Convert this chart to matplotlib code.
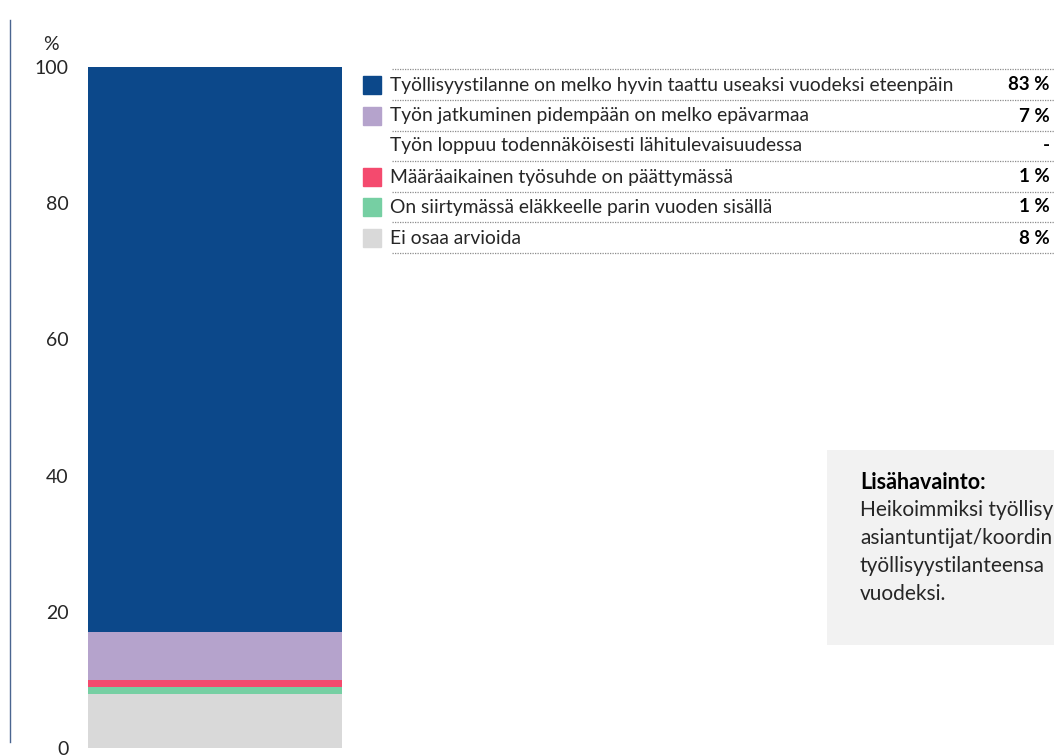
import matplotlib.pyplot as plt
from matplotlib.patches import Rectangle
from matplotlib.lines import Line2D

plt.rcParams['font.family'] = ['Lato', 'DejaVu Sans']

# data (legend order, top to bottom)
labels = ['Työllisyystilanne on melko hyvin taattu useaksi vuodeksi eteenpäin',
          'Työn jatkuminen pidempään on melko epävarmaa',
          'Työn loppuu todennäköisesti lähitulevaisuudessa',
          'Määräaikainen työsuhde on päättymässä',
          'On siirtymässä eläkkeelle parin vuoden sisällä',
          'Ei osaa arvioida']
values = [83, 7, 0, 1, 1, 8]
value_texts = ['83 %', '7 %', '-', '1 %', '1 %', '8 %']
colors = ['#0C488A', '#B5A3CC', '#F2A93B', '#F44A6E', '#76CFA3', '#D9D9D9']
yticks = [0, 20, 40, 60, 80, 100]

# note text as far as it is visible in the picture
note_title = 'Lisähavainto:'
note_lines = ['Heikoimmiksi työllisy',
              'asiantuntijat/koordin',
              'työllisyystilanteensa',
              'vuodeksi.']

W, H = 1054, 756
fig = plt.figure(figsize=(W / 100, H / 100), dpi=100)
txt = '#262626'

def fx(px):
    return px / W

def fy(py):
    return 1 - py / H

# bar axes: bar spans x 88..342, y 0 -> 748px, 100 -> 67px
ax = fig.add_axes([fx(88), fy(748), fx(342 - 88), (748 - 67) / H])
bottom = 0
for v, c in zip(values[::-1], colors[::-1]):
    if v > 0:
        ax.bar(0, v, bottom=bottom, width=1, color=c, linewidth=0)
    bottom += v
ax.set_xlim(-0.5, 0.5)
ax.set_ylim(0, 100)
ax.set_xticks([])
ax.set_yticks(yticks)
ax.tick_params(axis='y', length=0, pad=14, labelsize=14, labelcolor=txt)
for s in ax.spines.values():
    s.set_visible(False)
fig.text(fx(51), fy(45), '%', ha='center', va='center', fontsize=14, color=txt)

# left vertical line
fig.add_artist(Line2D([fx(10), fx(10)], [fy(20), fy(742)], color='#4A6590', lw=1))

# legend table
row_y = [85, 116, 146, 177, 207, 238]
line_y = [69, 100, 131, 161, 192, 222, 253]
for ly in line_y:
    fig.add_artist(Line2D([fx(392), fx(1054)], [fy(ly), fy(ly)], color='#8C8C8C',
                          lw=0.9, ls=(0, (1, 1))))
for lab, v, vt, c, ry in zip(labels, values, value_texts, colors, row_y):
    if v > 0:
        fig.add_artist(Rectangle((fx(363), fy(ry + 9)), fx(18), 18 / H, color=c,
                                 transform=fig.transFigure))
    fig.text(fx(390), fy(ry), lab, ha='left', va='center', fontsize=13.9, color=txt)
    fig.text(fx(1050), fy(ry), vt, ha='right', va='center', fontsize=13.5,
             fontweight='bold', color='black')

# note box, running off the right edge
nax = fig.add_axes([fx(827), fy(645), fx(W - 827), (645 - 450) / H])
nax.set_facecolor('#F2F2F2')
nax.set_xticks([])
nax.set_yticks([])
for s in nax.spines.values():
    s.set_visible(False)
nax.set_xlim(827, W)
nax.set_ylim(645, 450)
nax.text(860, 482, note_title, ha='left', va='center', fontsize=15.5,
         fontweight='bold', color='black', clip_on=True)
for i, line in enumerate(note_lines):
    nax.text(860, 510 + 28 * i, line, ha='left', va='center', fontsize=15,
             color=txt, clip_on=True)

fig.savefig('out.png', dpi=100)
